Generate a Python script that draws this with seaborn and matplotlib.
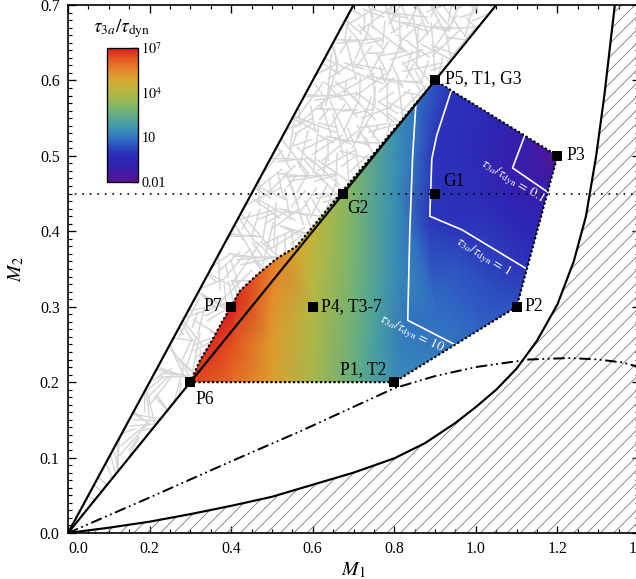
import numpy as np
import matplotlib
matplotlib.use("Agg")
import matplotlib.pyplot as plt
import matplotlib.tri as mtri
import matplotlib.transforms as mtransforms
import seaborn as sns
from matplotlib.colors import LinearSegmentedColormap, LogNorm
from matplotlib.cm import ScalarMappable
from matplotlib.patches import Polygon
from matplotlib.collections import LineCollection
from matplotlib.ticker import MultipleLocator, NullLocator

# ---------------------------------------------------------------- data
# axis ticks
x_ticks = [0.0, 0.2, 0.4, 0.6, 0.8, 1.0, 1.2, 1.4]
x_tick_labels = ["0.0", "0.2", "0.4", "0.6", "0.8", "1.0", "1.2", "1.4"]
y_ticks = [0.0, 0.1, 0.2, 0.3, 0.4, 0.5, 0.6, 0.7]
y_tick_labels = ["0.0", "0.1", "0.2", "0.3", "0.4", "0.5", "0.6", "0.7"]

# straight boundaries M2 = s * M1 enclosing the textured band
band_slopes = [1.0, 2.0 / 3.0]
band_m1_end = 1.2

# lower solid boundary (hatched below / right of it)
lower_m1 = [0.0, 0.1, 0.2, 0.3, 0.4, 0.5, 0.6, 0.7, 0.8, 0.875, 0.95, 1.0, 1.05,
            1.1, 1.15, 1.2, 1.24, 1.27, 1.295, 1.315, 1.33, 1.345]
lower_m2 = [0.0, 0.007, 0.015, 0.025, 0.036, 0.048, 0.064, 0.08, 0.099, 0.119,
            0.146, 0.167, 0.19, 0.218, 0.255, 0.303, 0.36, 0.42, 0.5, 0.58, 0.65, 0.72]

# dash-dot-dot curve
dashdot_m1 = [0.0, 0.2, 0.4, 0.57, 0.8, 0.9, 1.0, 1.13, 1.23, 1.3, 1.36, 1.4]
dashdot_m2 = [0.0, 0.047, 0.095, 0.135, 0.192, 0.208, 0.22, 0.23, 0.232, 0.23,
              0.226, 0.22]

# horizontal dotted reference line
g_line_m2 = 0.45

# outline of the sampled region
region_m1 = [0.3, 0.8, 1.1, 1.2, 0.9, 0.56, 0.51, 0.463, 0.42, 0.4, 0.377, 0.353, 0.323]
region_m2 = [0.2, 0.2, 0.3, 0.5, 0.6, 0.38, 0.363, 0.342, 0.32, 0.3, 0.279, 0.255, 0.228]
region_log_tau = [6.6, 1.45, 0.45, -1.9, 0.45, 4.9, 5.6, 6.3, 6.8, 7.0, 6.9, 6.8, 6.7]

# further samples of log10(tau_3a / tau_dyn)
sample_m1 = [0.4, 0.5, 0.6, 0.7, 1.05, 0.8, 0.7, 0.6, 1.0, 1.15,
             0.4, 0.5, 0.5, 0.6, 0.7, 0.75, 0.75, 0.65, 0.7, 0.75,
             0.8, 0.8, 0.9, 1.0, 0.95, 1.05, 0.9, 1.0, 1.0, 1.1, 1.15, 1.16]
sample_m2 = [0.2, 0.2, 0.2, 0.2, 0.55, 0.535, 0.471, 0.406, 0.267, 0.4,
             0.25, 0.25, 0.3, 0.3, 0.3, 0.25, 0.3, 0.4, 0.4, 0.45,
             0.35, 0.45, 0.3, 0.3, 0.35, 0.33, 0.45, 0.45, 0.52, 0.42, 0.48, 0.5]
sample_log_tau = [6.0, 5.0, 3.8, 2.6, -0.5, 1.6, 3.0, 4.3, 0.75, -0.5,
                  6.4, 5.1, 5.3, 4.0, 2.75, 2.0, 2.1, 3.6, 2.9, 2.2,
                  1.5, 1.55, 0.85, 0.6, 0.5, 0.3, -0.1, -0.3, -0.4, -0.6, -1.2, -1.5]

# contour lines tau_3a/tau_dyn = 10, 1, 0.1
contour_levels = [1.0, 0.0, -1.0]
contour_10_m1 = [0.853, 0.845, 0.838, 0.833, 0.949]
contour_10_m2 = [0.569, 0.5, 0.4, 0.282, 0.2497]
contour_1_m1 = [0.94, 0.904, 0.892, 0.887, 0.966, 1.125]
contour_1_m2 = [0.587, 0.527, 0.496, 0.42, 0.402, 0.35]
contour_01_m1 = [1.12, 1.09, 1.176]
contour_01_m2 = [0.527, 0.484, 0.452]
contour_label_text = [r"$\tau_{3a}/\tau_{\rm dyn}\,=\,\mathit{10}$",
                      r"$\tau_{3a}/\tau_{\rm dyn}\,=\,\mathit{1}$",
                      r"$\tau_{3a}/\tau_{\rm dyn}\,=\,\mathit{0.1}$"]
contour_label_m1 = [0.843, 1.017, 1.09]
contour_label_m2 = [0.264, 0.366, 0.466]

# labelled models
point_names = ["P1, T2", "P2", "P3", "P4, T3-7", "P5, T1, G3", "P6", "P7", "G1", "G2"]
point_m1 = [0.8, 1.1, 1.2, 0.6, 0.9, 0.3, 0.4, 0.9, 0.675]
point_m2 = [0.2, 0.3, 0.5, 0.3, 0.6, 0.2, 0.3, 0.45, 0.45]

# colour bar
cbar_ticks = [1e-2, 1e1, 1e4, 1e7]
cbar_tick_labels = ["0.01", "10", r"$10^4$", r"$10^7$"]

# ---------------------------------------------------------------- style
sns.set_theme(style="ticks")
plt.rcParams.update({
    "font.family": ["Liberation Serif", "DejaVu Serif"],
    "mathtext.fontset": "stix",
    "text.color": "black",
    "axes.edgecolor": "black",
    "axes.labelcolor": "black",
    "axes.linewidth": 1.0,
    "xtick.color": "black",
    "ytick.color": "black",
    "xtick.direction": "in",
    "ytick.direction": "in",
    "xtick.top": True,
    "ytick.right": True,
    "xtick.major.size": 4.5,
    "ytick.major.size": 4.5,
    "xtick.minor.size": 2.4,
    "ytick.minor.size": 2.4,
    "xtick.major.width": 0.8,
    "ytick.major.width": 0.8,
    "xtick.minor.width": 0.7,
    "ytick.minor.width": 0.7,
    "xtick.labelsize": 9.5,
    "ytick.labelsize": 9.5,
    "hatch.linewidth": 0.6,
})

rainbow = LinearSegmentedColormap.from_list("rainbow_tau", [
    (0.00, "#5a1290"), (0.08, "#3f1aa8"), (0.16, "#2c26b4"), (0.22, "#2b34ba"),
    (0.30, "#2f62c4"), (0.37, "#3588bb"), (0.44, "#48a0a0"), (0.52, "#6cb07a"),
    (0.60, "#94b858"), (0.68, "#b8b840"), (0.76, "#d8a832"), (0.84, "#e88428"),
    (0.92, "#e45a22"), (1.00, "#d81e1e")])

DPI = 120
fig = plt.figure(figsize=(636 / DPI, 579 / DPI), dpi=DPI)
ax = fig.add_axes([68 / 636, 46 / 579, 571 / 636, 528 / 579])
x_lim, y_lim = (0.0, 1.4), (0.0, 0.7)
ax.set_xlim(*x_lim)
ax.set_ylim(*y_lim)
px_per_x = 571 / (x_lim[1] - x_lim[0])
px_per_y = 528 / (y_lim[1] - y_lim[0])

# ---------------------------------------------------------------- textured band
band_patch = Polygon([(0, 0), (0.8, 0.8), (1.2, 0.8)], closed=True,
                     transform=ax.transData)
n_fibres = 420
k = np.arange(1, n_fibres + 1)
fu = (k * 0.7548776662) % 1.0
fv = (k * 0.5698402910) % 1.0
fw = (k * 0.6180339887) % 1.0
fq = (k * 0.4142135624) % 1.0
cy = 0.78 * np.sqrt(fu)
cx = cy * (1.0 + 0.5 * fv)
half = 0.5 * (14 + 36 * fq)
ang = np.pi * fw
dx = half * np.cos(ang) / px_per_x
dy = half * np.sin(ang) / px_per_y
fibres = np.stack([np.column_stack([cx - dx, cy - dy]),
                   np.column_stack([cx + dx, cy + dy])], axis=1)
lc = LineCollection(fibres, colors="#d6d6d6", linewidths=0.9, zorder=1)
ax.add_collection(lc)
lc.set_clip_path(band_patch)

# ---------------------------------------------------------------- hatched region
ax.fill(lower_m1 + [1.6, 1.6, 0.0], lower_m2 + [0.8, -0.1, -0.1],
        facecolor="none", edgecolor="#8c8c8c", linewidth=0, hatch="///", zorder=1)

# ---------------------------------------------------------------- colour field
fx = np.array(region_m1 + sample_m1 + contour_10_m1 + contour_1_m1 + contour_01_m1)
fy = np.array(region_m2 + sample_m2 + contour_10_m2 + contour_1_m2 + contour_01_m2)
fz = np.array(region_log_tau + sample_log_tau
              + [contour_levels[0]] * len(contour_10_m1)
              + [contour_levels[1]] * len(contour_1_m1)
              + [contour_levels[2]] * len(contour_01_m1))
tri = mtri.Triangulation(fx, fy)
mesh = ax.tripcolor(tri, fz, shading="gouraud", cmap=rainbow, vmin=-2, vmax=7,
                    zorder=2)
region_patch = Polygon(list(zip(region_m1, region_m2)), closed=True,
                       transform=ax.transData)
mesh.set_clip_path(region_patch)

for cm1, cm2 in [(contour_10_m1, contour_10_m2), (contour_1_m1, contour_1_m2),
                 (contour_01_m1, contour_01_m2)]:
    ax.plot(cm1, cm2, color="white", lw=1.0, zorder=3)
for txt, lx, ly, rot in zip(contour_label_text, contour_label_m1, contour_label_m2,
                            [-26, -31, -31]):
    ax.text(lx, ly, txt, color="white", fontsize=8, rotation=rot,
            rotation_mode="anchor", ha="center", va="center", zorder=3)

# dotted outline of the region
ax.plot(region_m1 + region_m1[:1], region_m2 + region_m2[:1], color="black",
        lw=1.5, linestyle=(0, (0.1, 1.7)), dash_capstyle="round", zorder=4)

# ---------------------------------------------------------------- curves
for s in band_slopes:
    sns.lineplot(x=[0.0, band_m1_end], y=[0.0, s * band_m1_end], color="black",
                 lw=1.3, sort=False, estimator=None, ax=ax, zorder=5)
sns.lineplot(x=lower_m1, y=lower_m2, color="black", lw=1.3, sort=False,
             estimator=None, ax=ax, zorder=5)
ax.plot(dashdot_m1, dashdot_m2, color="black", lw=1.2,
        linestyle=(0, (5, 2.6, 0.1, 2.6, 0.1, 2.6)), dash_capstyle="round", zorder=5)
ax.axhline(g_line_m2, color="black", lw=1.1, linestyle=(0, (0.1, 4.0)),
           dash_capstyle="round", zorder=4)

# ---------------------------------------------------------------- models
sns.scatterplot(x=point_m1, y=point_m2, marker="s", s=38, color="black",
                linewidth=0, ax=ax, zorder=6, legend=False)
label_place = {
    "P1, T2": (-8, 13, "right"), "P2": (8, 0, "left"), "P3": (9, 0, "left"),
    "P4, T3-7": (8, 0, "left"), "P5, T1, G3": (10, 2, "left"),
    "P6": (5, -17, "left"), "P7": (-9, 0, "right"),
    "G1": (8, 12, "left"), "G2": (4, -15, "left"),
}
for name, mx, my in zip(point_names, point_m1, point_m2):
    ox, oy, ha = label_place[name]
    ax.annotate(name, (mx, my), xytext=(ox * 72 / DPI, oy * 72 / DPI),
                textcoords="offset points", ha=ha, va="center", fontsize=10.5,
                zorder=7)

# ---------------------------------------------------------------- axes
ax.set_xticks(x_ticks, x_tick_labels)
ax.set_yticks(y_ticks, y_tick_labels)
ax.xaxis.set_minor_locator(MultipleLocator(0.05))
ax.yaxis.set_minor_locator(MultipleLocator(0.01))
ax.tick_params(which="both", top=True, right=True)
ax.tick_params(axis="x", pad=5)
ax.tick_params(axis="y", pad=5)
first = ax.get_xticklabels()[0]
first.set_transform(first.get_transform()
                    + mtransforms.ScaledTranslation(10 / DPI, 0, fig.dpi_scale_trans))
ax.set_xlabel(r"$M_1$", fontsize=12, labelpad=2)
ax.set_ylabel(r"$M_2$", fontsize=12, labelpad=8)
for sp in ax.spines.values():
    sp.set_zorder(8)

# ---------------------------------------------------------------- colour bar
cax = fig.add_axes([107 / 636, (579 - 182) / 579, 31 / 636, 134 / 579])
cb = fig.colorbar(ScalarMappable(norm=LogNorm(1e-2, 1e7), cmap=rainbow), cax=cax)
cb.set_ticks(cbar_ticks, labels=cbar_tick_labels)
cax.yaxis.set_minor_locator(NullLocator())
cax.tick_params(axis="y", which="major", direction="in", length=3.5, width=0.8,
                labelsize=8.5, pad=2, right=True, left=False)
cb.outline.set_linewidth(0.8)
fig.text(122 / 636, 1 - 29 / 579, r"$\tau_{3a}/\tau_{\rm dyn}$", ha="center",
         va="center", fontsize=11.5)

fig.savefig("out.png", dpi=DPI)
